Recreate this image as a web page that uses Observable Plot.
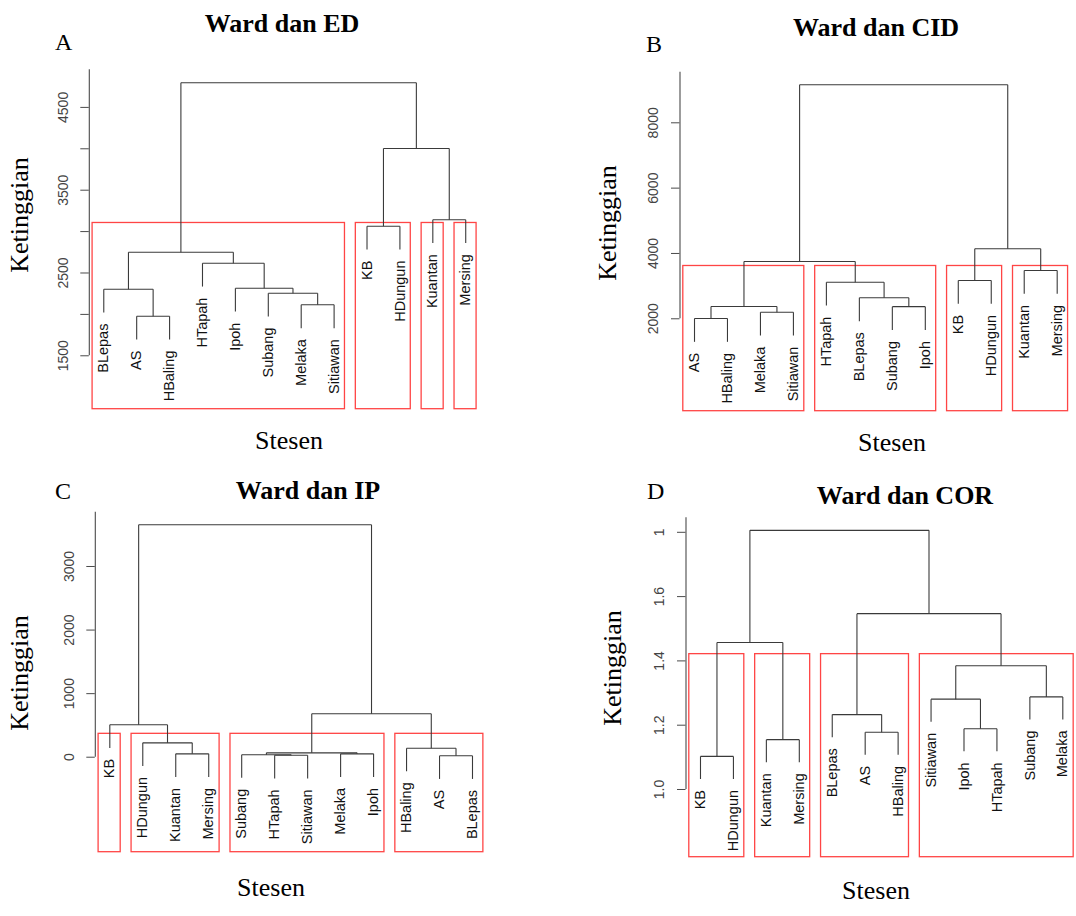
<!DOCTYPE html>
<html><head><meta charset="utf-8">
<script src="https://cdn.jsdelivr.net/npm/d3@7"></script>
<script src="https://cdn.jsdelivr.net/npm/@observablehq/plot@0.6"></script>
<style>
body{margin:0;background:#fff;}
#page{position:relative;width:1076px;height:916px;overflow:hidden;background:#fff;}
.panel{position:absolute;}
.panel svg{overflow:visible;display:block;max-width:none;}
.t{position:absolute;white-space:nowrap;line-height:1;color:#000;font-family:"Liberation Serif","Times New Roman",serif;}
</style></head><body><div id="page"></div>
<script>
// ---------- DATA ----------
// Panel A: Ward dan ED
const edLeaves = ["BLepas","AS","HBaling","HTapah","Ipoh","Subang","Melaka","Sitiawan","KB","HDungun","Kuantan","Mersing"];
const edMerges = [["AS","HBaling",1978],["Melaka","Sitiawan",2116],["Subang",1,2256],["BLepas",0,2304],["Ipoh",2,2316],
  ["HTapah",4,2618],[3,5,2751],["KB","HDungun",3065],["Kuantan","Mersing",3143],[7,8,4004],[6,9,4797]];
const edTicks = [1500,2000,2500,3000,3500,4000,4500];
const edLabelValues = [1500,2500,3500,4500];
const edLabelTexts = ["1500","2500","3500","4500"];
const edYRange = [855,4954];

// Panel B: Ward dan CID
const cidLeaves = ["AS","HBaling","Melaka","Sitiawan","HTapah","BLepas","Subang","Ipoh","KB","HDungun","Kuantan","Mersing"];
const cidMerges = [["AS","HBaling",2010],["Melaka","Sitiawan",2202],[0,1,2377],["Subang","Ipoh",2372],["BLepas",3,2643],
  ["HTapah",4,3120],[2,5,3754],["KB","HDungun",3172],["Kuantan","Mersing",3479],[7,8,4143],[6,9,9163]];
const cidTicks = [2000,4000,6000,8000];
const cidLabelValues = [2000,4000,6000,8000];
const cidLabelTexts = ["2000","4000","6000","8000"];
const cidYRange = [-829,9549];

// Panel C: Ward dan IP
const ipLeaves = ["KB","HDungun","Kuantan","Mersing","Subang","HTapah","Sitiawan","Melaka","Ipoh","HBaling","AS","BLepas"];
const ipMerges = [["AS","BLepas",22],["HTapah","Sitiawan",30],["Subang",1,40],["Melaka","Ipoh",53],["Kuantan","Mersing",53],
  [2,3,69],["HBaling",0,142],["HDungun",4,226],["KB",7,510],[5,6,683],[8,9,3656]];
const ipTicks = [0,1000,2000,3000];
const ipLabelValues = [0,1000,2000,3000];
const ipLabelTexts = ["0","1000","2000","3000"];
const ipYRange = [-1494,3854];

// Panel D: Ward dan COR
const corLeaves = ["KB","HDungun","Kuantan","Mersing","BLepas","AS","HBaling","Sitiawan","Ipoh","HTapah","Subang","Melaka"];
const corMerges = [["KB","HDungun",1.103],["Kuantan","Mersing",1.155],["AS","HBaling",1.178],["Ipoh","HTapah",1.189],
  ["BLepas",2,1.233],["Sitiawan",3,1.281],["Subang","Melaka",1.288],[5,6,1.385],[0,1,1.457],[4,7,1.547],[8,9,1.806]];
const corTicks = [1.0,1.2,1.4,1.6,1.8];
const corLabelValues = [1.0,1.2,1.4,1.6,1.8];
const corLabelTexts = ["1.0","1.2","1.4","1.6","1"];
const corYRange = [0.7894,1.8451];

const titles = ["Ward dan ED","Ward dan CID","Ward dan IP","Ward dan COR"];
const letters = ["A","B","C","D"];
const yTitle = "Ketinggian";
const xTitle = "Stesen";
const nClusters = 4;

// ---------- dendrogram geometry (R plot.hclust / rect.hclust conventions) ----------
function dendro(leaves, merges, k) {
  const pos = new Map(leaves.map((n, i) => [n, i + 1]));
  const heights = merges.map(m => m[2]);
  const hang = 0.1 * (d3.max(heights) - d3.min(heights));
  const nodeX = [], segs = [], leafPts = [];
  const isLeaf = c => typeof c === "string";
  const cx = c => isLeaf(c) ? pos.get(c) : nodeX[c];
  merges.forEach(([a, b, h], i) => {
    const xa = cx(a), xb = cx(b);
    nodeX[i] = (xa + xb) / 2;
    segs.push({x1: xa, x2: xb, y1: h, y2: h});
    for (const [c, xc] of [[a, xa], [b, xb]]) {
      const yc = isLeaf(c) ? h - hang : merges[c][2];
      segs.push({x1: xc, x2: xc, y1: yc, y2: h});
      if (isLeaf(c)) leafPts.push({name: c, x: xc, y: h - hang});
    }
  });
  const sorted = [...heights].sort((p, q) => q - p);
  const cut = (sorted[k - 2] + sorted[k - 1]) / 2;
  const top = new Set(merges.map((m, i) => i).filter(i => merges[i][2] > cut));
  const leafSet = c => isLeaf(c) ? [c] : [...leafSet(merges[c][0]), ...leafSet(merges[c][1])];
  const boxes = [];
  for (const i of top) for (const c of merges[i].slice(0, 2)) {
    if (isLeaf(c) || !top.has(c)) {
      const xs = leafSet(c).map(n => pos.get(n));
      boxes.push({x1: d3.min(xs) - 0.34, x2: d3.max(xs) + 0.33, top: cut});
    }
  }
  return {segs, leafPts, boxes};
}

const panels = [
  {leaves: edLeaves, merges: edMerges, ticks: edTicks, lv: edLabelValues, lt: edLabelTexts, yr: edYRange,
   left: 0, top: 0, width: 538, height: 458, m: [69.3, 58.3, 49.3, 88.8]},
  {leaves: cidLeaves, merges: cidMerges, ticks: cidTicks, lv: cidLabelValues, lt: cidLabelTexts, yr: cidYRange,
   left: 538, top: 0, width: 538, height: 458, m: [71.7, 4.8, 47.3, 141.5]},
  {leaves: ipLeaves, merges: ipMerges, ticks: ipTicks, lv: ipLabelValues, lt: ipLabelTexts, yr: ipYRange,
   left: 0, top: 458, width: 538, height: 458, m: [53.7, 51.5, 64.3, 94.8]},
  {leaves: corLeaves, merges: corMerges, ticks: corTicks, lv: corLabelValues, lt: corLabelTexts, yr: corYRange,
   left: 538, top: 458, width: 540, height: 458, m: [59.3, 1.2, 59.3, 147.5]}
];

const page = document.getElementById("page");
const lineColor = "#3a3a3a", axisColor = "#4a4a4a", boxColor = "#ff4545";

panels.forEach(p => {
  const n = p.leaves.length;
  const xDomain = [1 - 0.04 * (n - 1), n + 0.04 * (n - 1)];
  const {segs, leafPts, boxes} = dendro(p.leaves, p.merges, nClusters);
  const labelData = p.lv.map((v, i) => ({v, t: p.lt[i]}));
  const chart = Plot.plot({
    width: p.width, height: p.height,
    marginTop: p.m[0], marginRight: p.m[1], marginBottom: p.m[2], marginLeft: p.m[3],
    x: {domain: xDomain, axis: null},
    y: {domain: p.yr, label: null},
    style: {background: "transparent", overflow: "visible"},
    marks: [
      Plot.rect(boxes, {x1: "x1", x2: "x2", y1: p.yr[0], y2: "top", fill: "none", stroke: boxColor, strokeWidth: 1.3}),
      Plot.link(segs, {x1: "x1", y1: "y1", x2: "x2", y2: "y2", stroke: lineColor, strokeWidth: 1.1}),
      Plot.text(leafPts, {x: "x", y: "y", text: "name", rotate: -90, textAnchor: "end", dy: 11,
        fontSize: 14.5, fontFamily: "Liberation Sans, Arial, sans-serif", fill: "#111"}),
      Plot.axisY({ticks: p.ticks, tickSize: 8.5, tickFormat: () => "", stroke: axisColor, label: null}),
      Plot.text(labelData, {y: "v", text: "t", frameAnchor: "left", dx: -26, rotate: -90, textAnchor: "middle",
        fontSize: 14, fontFamily: "Liberation Sans, Arial, sans-serif", fill: "#444"}),
      Plot.ruleX([xDomain[0]], {y1: p.ticks[0], y2: p.yr[1], stroke: axisColor, strokeWidth: 1.1})
    ]
  });
  const div = document.createElement("div");
  div.className = "panel";
  div.style.left = p.left + "px"; div.style.top = p.top + "px";
  div.style.width = p.width + "px"; div.style.height = p.height + "px";
  div.appendChild(chart);
  page.appendChild(div);
});

// ---------- titles and axis titles ----------
const ASC = 0.8375;
function hText(txt, cx, baseline, size, bold, anchor) {
  const d = document.createElement("div");
  d.className = "t"; d.textContent = txt;
  d.style.fontSize = size + "px"; d.style.fontWeight = bold ? "bold" : "normal";
  d.style.left = cx + "px"; d.style.top = (baseline - ASC * size) + "px";
  if (anchor === "middle") d.style.transform = "translateX(-50%)";
  page.appendChild(d);
}
function vText(txt, bx, cy, size) {
  const d = document.createElement("div");
  d.className = "t"; d.textContent = txt;
  d.style.fontSize = size + "px";
  d.style.left = bx + "px"; d.style.top = cy + "px";
  d.style.transformOrigin = "0 0";
  d.style.transform = `rotate(-90deg) translate(-50%, -${ASC}em)`;
  page.appendChild(d);
}
const titlePos = [[282, 33], [876, 36.7], [308, 499.3], [905, 505]];
const letterPos = [[55, 50], [646, 52.3], [55, 499.3], [647, 499]];
const yTitlePos = [[29, 215], [617, 222.5], [29, 673], [622, 668]];
const xTitlePos = [[289, 450], [892, 451.7], [271, 897], [876, 900]];
titles.forEach((t, i) => hText(t, titlePos[i][0], titlePos[i][1], 26, true, "middle"));
letters.forEach((t, i) => hText(t, letterPos[i][0], letterPos[i][1], 24, false, "start"));
yTitlePos.forEach(([x, y]) => vText(yTitle, x, y, 26));
xTitlePos.forEach(([x, y]) => hText(xTitle, x, y, 26, false, "middle"));
</script>
</body></html>
